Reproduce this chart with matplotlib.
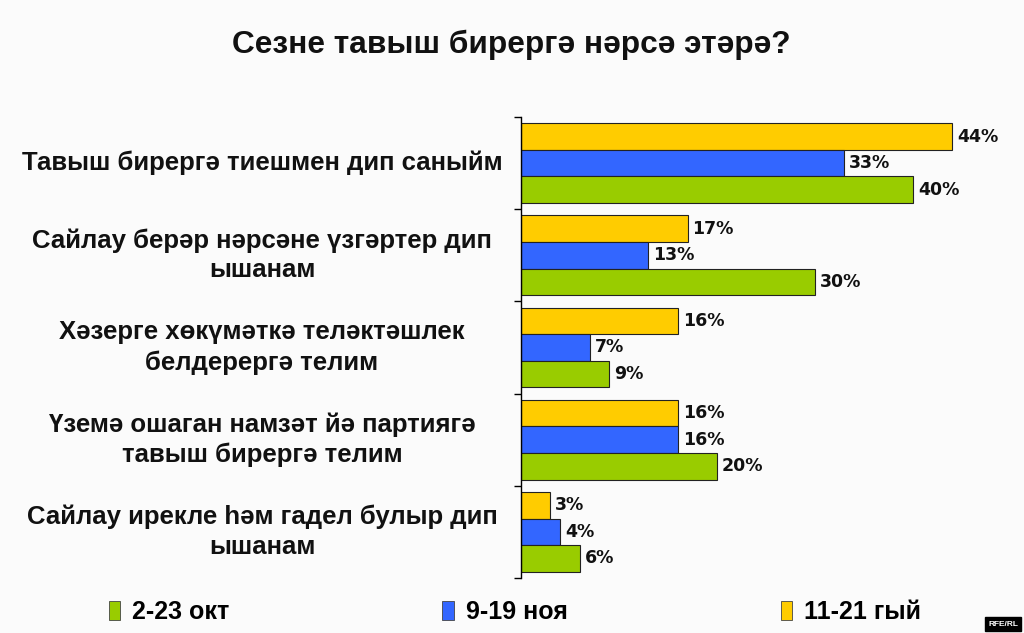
import numpy as np
import matplotlib
matplotlib.use("Agg")
import matplotlib.pyplot as plt
from matplotlib.patches import Patch
from matplotlib.transforms import blended_transform_factory

plt.rcParams["font.family"] = ["Liberation Sans", "DejaVu Sans"]

title = "Сезне тавыш бирергә нәрсә этәрә?"
categories = [
    "Тавыш бирергә тиешмен дип саныйм",
    "Сайлау берәр нәрсәне үзгәртер дип\nышанам",
    "Хәзерге хөкүмәткә теләктәшлек\nбелдерергә телим",
    "Үземә ошаган намзәт йә партиягә\nтавыш бирергә телим",
    "Сайлау ирекле һәм гадел булыр дип\nышанам",
]
series_names = ["2-23 окт", "9-19 ноя", "11-21 гый"]
okt = [40, 30, 9, 20, 6]
noya = [33, 13, 7, 16, 4]
gyi = [44, 17, 16, 16, 3]

colors = {"okt": "#99CC00", "noya": "#3366FF", "gyi": "#FFCC00"}
bg = "#FBFBFB"

fig = plt.figure(figsize=(10.24, 6.33), dpi=100, facecolor=bg)
ax = fig.add_axes([521 / 1024, 1 - 578 / 633, 490 / 1024, 461 / 633])
ax.set_facecolor(bg)

y = np.arange(len(categories))
h = 0.288
# top to bottom inside a group: gyi, noya, okt
for vals, off, key in [(gyi, -h, "gyi"), (noya, 0, "noya"), (okt, h, "okt")]:
    bars = ax.barh(y + off, vals, height=h, color=colors[key],
                   edgecolor="#222222", linewidth=0.8)
    for b, v in zip(bars, vals):
        ax.text(b.get_width() + 0.5, b.get_y() + b.get_height() / 2, f"{v}%",
                va="center", ha="left", fontsize=12.5, fontweight="bold",
                family="DejaVu Sans", color="#111111")

ax.set_xlim(0, 50)
ax.set_ylim(len(categories) - 0.5, -0.5)
for s in ["top", "right", "bottom"]:
    ax.spines[s].set_visible(False)
ax.spines["left"].set_linewidth(1.0)
ax.set_xticks([])
ax.set_yticks(np.arange(-0.5, len(categories), 1))
ax.set_yticklabels([])
ax.tick_params(axis="y", direction="out", length=5, width=1)

tr = blended_transform_factory(fig.transFigure, ax.transData)
for yi, lab in zip(y, categories):
    ax.text(262 / 1024, yi, lab, transform=tr, ha="center", va="center",
            fontsize=18.5, fontweight="bold", linespacing=1.3, color="#111111")

fig.text(511 / 1024, 1 - 45 / 633, title, ha="center", va="center",
         fontsize=22.8, fontweight="bold", color="#111111")

handles = [Patch(facecolor=colors[k], edgecolor="#444444", linewidth=0.6)
           for k in ["okt", "noya", "gyi"]]
fig.legend(handles, series_names, loc="center", ncol=3,
           bbox_to_anchor=(515 / 1024, 1 - 612 / 633), frameon=False,
           prop={"size": 18, "weight": "bold"}, handlelength=0.45,
           handleheight=0.8, handletextpad=0.5, columnspacing=8.5)

fig.text(1003 / 1024, 1 - 624 / 633, "RFE/RL", ha="center", va="center",
         fontsize=6, fontweight="bold", color="white",
         bbox=dict(boxstyle="square,pad=0.4", facecolor="black", edgecolor="black"))

fig.savefig("out.png", dpi=100, facecolor=bg)
